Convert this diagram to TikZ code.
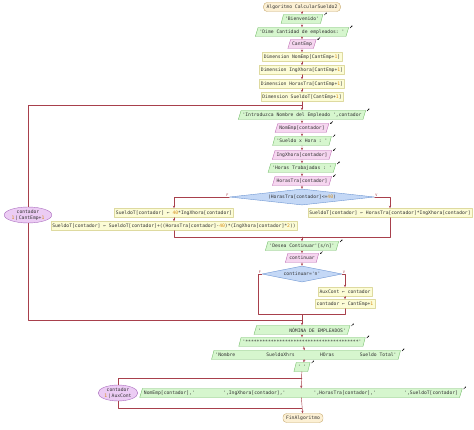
\documentclass[tikz,border=0pt]{standalone}
\usepackage{fontspec}
\newfontfamily\pse[Ligatures=TeXOff]{DejaVu Sans Mono}
\usetikzlibrary{shapes.geometric,arrows.meta}
\definecolor{linea}{RGB}{168,64,76}
\definecolor{texto}{RGB}{50,50,50}
\definecolor{numero}{RGB}{214,140,20}
\definecolor{procF}{RGB}{252,252,214}
\definecolor{procD}{RGB}{222,218,160}
\definecolor{iniF}{RGB}{252,240,212}
\definecolor{iniD}{RGB}{200,170,110}
\definecolor{salF}{RGB}{214,246,206}
\definecolor{salD}{RGB}{120,190,110}
\definecolor{entF}{RGB}{246,214,240}
\definecolor{entD}{RGB}{190,110,180}
\definecolor{decF}{RGB}{196,216,246}
\definecolor{decD}{RGB}{110,150,210}
\definecolor{cicF}{RGB}{236,204,244}
\definecolor{cicD}{RGB}{170,110,190}
\newcommand{\nro}[1]{\textcolor{numero}{#1}}
\tikzset{
  caja/.style={inner sep=1.5pt,minimum height=9pt,line width=0.4pt},
  inicio/.style={caja,rounded corners=3.5pt,fill=iniF,draw=iniD,inner xsep=3pt},
  proceso/.style={caja,fill=procF,draw=procD},
  salida/.style={caja,trapezium,trapezium left angle=70,trapezium right angle=110,
    trapezium stretches=true,fill=salF,draw=salD},
  entrada/.style={salida,fill=entF,draw=entD},
  decision/.style={diamond,aspect=9,inner sep=0pt,minimum height=16pt,fill=decF,draw=decD},
  ciclo/.style={ellipse,inner sep=0.5pt,align=center,fill=cicF,draw=cicD},
  conector/.style={draw=linea,line width=0.45pt},
  flecha/.style={conector,-{Stealth[length=2.6pt,width=2.2pt]}},
  icono/.style={line width=0.45pt,black},
  rotulo/.style={text=linea,font=\pse\fontsize{3.5}{4}\selectfont,inner sep=0.5pt}
}
\begin{document}
\begin{tikzpicture}[x=1pt,y=-1pt,line join=round,line cap=round,
  font=\pse\fontsize{4.7}{5.6}\selectfont,text=texto]
\useasboundingbox (0,0) rectangle (474,430);
%columna principal
\node[inicio] (ini) at (302,7) {Algoritmo CalcularSueldo2};
\node[salida] (sal1) at (302,19) {'Bienvenido'};
\node[salida] (sal2) at (302,32) {'Dime Cantidad de empleados:~'};
\node[entrada] (ent1) at (302,44) {CantEmp};
\node[proceso] (dim1) at (302,57) {Dimension NomEmp[CantEmp+\nro{1}]};
\node[proceso] (dim2) at (302,70) {Dimension IngXhora[CantEmp+\nro{1}]};
\node[proceso] (dim3) at (302,84) {Dimension HorasTra[CantEmp+\nro{1}]};
\node[proceso] (dim4) at (302,97) {Dimension SueldoT[CantEmp+\nro{1}]};
\node[salida] (sal3) at (302,115) {'Introduzca Nombre del Empleado~',contador};
\node[entrada] (ent2) at (302,128) {NomEmp[contador]};
\node[salida] (sal4) at (302,141) {'Sueldo x Hora :~'};
\node[entrada] (ent3) at (302,155) {IngXhora[contador]};
\node[salida] (sal5) at (302,168) {'Horas Trabajadas :~'};
\node[entrada] (ent4) at (302,181) {HorasTra[contador]};
\node[decision,minimum width=145pt] (si1) at (302,197) {(HorasTra[contador]<=\nro{40})};
\node[proceso] (asig1) at (174,213) {SueldoT[contador] ← \nro{40}*IngXhora[contador]};
\node[proceso] (asig2) at (174,226) {SueldoT[contador] ← SueldoT[contador]+((HorasTra[contador]-\nro{40})*(IngXhora[contador]*\nro{2}))};
\node[proceso] (asig3) at (390,213) {SueldoT[contador] ← HorasTra[contador]*IngXhora[contador]};
\node[salida] (sal6) at (302,246) {'Desea Continuar'[s/n]'};
\node[entrada] (ent5) at (302,258) {continuar};
\node[decision,minimum width=80pt] (si2) at (302,274) {continuar='n'};
\node[proceso] (asig4) at (345,292) {AuxCont ← contador};
\node[proceso] (asig5) at (345,304) {contador ← CantEmp+\nro{1}};
\node[salida] (sal7) at (302,330) {'~~~~~~~~~~NÓMINA DE EMPLEADOS'};
\node[salida] (sal8) at (302,342) {'****************************************'};
\node[salida] (sal9) at (306,355) {'Nombre~~~~~~~~~~~SueldoXhrs~~~~~~~~~HOras~~~~~~~~~Sueldo Total'};
\node[salida] (sal10) at (302,367) {'~'};
\node[salida] (sal11) at (301,393) {NomEmp[contador],'~~~~~~~~~~',IngXhora[contador],'~~~~~~~~~~',HorasTra[contador],'~~~~~~~~~~',SueldoT[contador]};
\node[inicio] (fin) at (303,418) {FinAlgoritmo};
%ciclos
\node[ciclo] (para1) at (28,215) {contador\\\nro{1}\,|\,CantEmp+\nro{1}};
\node[ciclo] (para2) at (118,393) {contador\\\nro{1}\,|\,AuxCont};
\coordinate (j1) at (302,105);
\coordinate (j2) at (302,320);
\coordinate (j3) at (302,378);
\coordinate (j4) at (302,408);
\coordinate (m1) at (302,237);
\coordinate (m2) at (302,314);
\coordinate (f2) at (258,314);
%conectores
\foreach \a/\b in {ini/sal1,sal1/sal2,sal2/ent1,ent1/dim1,dim1/dim2,dim2/dim3,dim3/dim4,
  dim4/sal3,sal3/ent2,ent2/sal4,sal4/ent3,ent3/sal5,sal5/ent4,ent4/si1,
  sal6/ent5,ent5/si2,asig1/asig2,asig4/asig5,sal7/sal8,sal8/sal9,sal9/sal10,
  sal10/sal11,sal11/fin}
  \draw[flecha] (\a) -- (\b);
\draw[flecha] (si1.west) -| (asig1);
\draw[flecha] (si1.east) -| (asig3);
\draw[conector] (asig2) |- (m1) (asig3) |- (m1);
\draw[flecha] (m1) -- (sal6);
\draw[flecha] (si2.east) -| (asig4);
\draw[conector] (si2.west) -| (f2) -- (m2) (asig5) |- (m2) -- (j2);
\draw[flecha] (j2) -- (sal7);
\draw[conector] (para1) |- (j1) (para1) |- (j2);
\draw[conector] (para2) |- (j3) (para2) |- (j4);
\node[rotulo,anchor=south east] at (si1.west) {F};
\node[rotulo,anchor=south west] at (si1.east) {V};
\node[rotulo,anchor=south east] at (si2.west) {F};
\node[rotulo,anchor=south west] at (si2.east) {V};
%iconos de entrada y salida
\foreach \n in {sal1,sal2,sal3,sal4,sal5,sal6,sal7,sal8,sal9,sal10,sal11}
  \draw[icono,-{Stealth[length=1.4pt,width=1.4pt]}] ([shift={(2.5,-4)}]\n.east) -- ++(2.4,-2.4);
\foreach \n in {ent1,ent2,ent3,ent4,ent5}
  \draw[icono,{Stealth[length=1.4pt,width=1.4pt]}-] ([shift={(2.5,-4)}]\n.east) -- ++(2.4,-2.4);
\end{tikzpicture}
\end{document}
